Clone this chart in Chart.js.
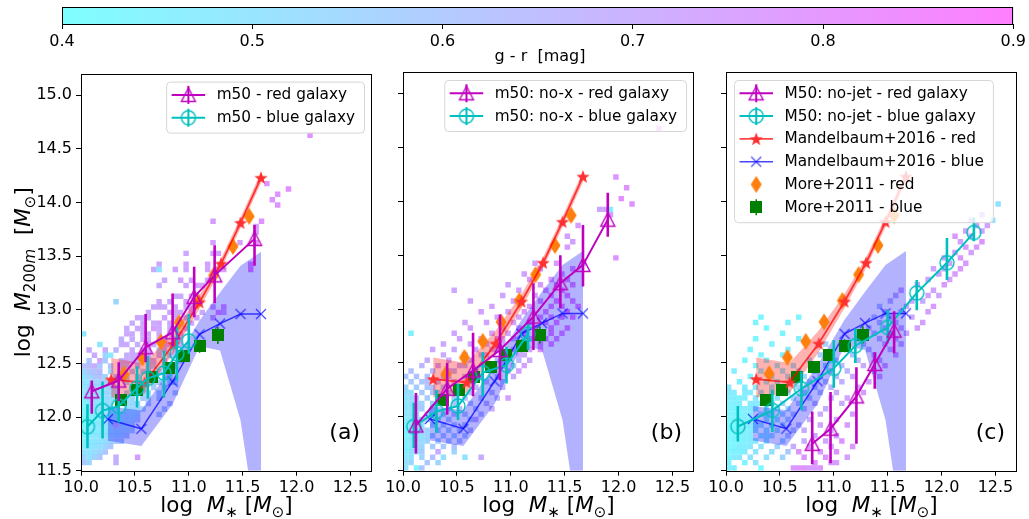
<!DOCTYPE html>
<html>
<head>
<meta charset="utf-8">
<script src="https://cdn.jsdelivr.net/npm/chart.js@4.4.1/dist/chart.umd.min.js"></script>
<style>
  body { margin: 0; background: #fff; }
  #wrap { position: relative; width: 1029px; height: 519px; overflow: hidden; background: #fff; }
  canvas { position: absolute; }
</style>
</head>
<body>
<div id="wrap">
  <canvas id="pa" width="382" height="459" style="left:0px;top:60px"></canvas>
  <canvas id="pb" width="382" height="459" style="left:322px;top:60px"></canvas>
  <canvas id="pc" width="382" height="459" style="left:645px;top:60px"></canvas>
  <canvas id="cbar" width="1029" height="66" style="left:0px;top:0px"></canvas>
</div>
<script>
// ---- tick labels ----
var cbarTicks = [0.4, 0.5, 0.6, 0.7, 0.8, 0.9];
var xTicks = [10.0, 10.5, 11.0, 11.5, 12.0, 12.5];
var yTicks = [11.5, 12.0, 12.5, 13.0, 13.5, 14.0, 14.5, 15.0];

// ---- observations (same in all panels) ----
var mandRedX  = [10.28, 10.59, 10.86, 11.10, 11.30, 11.48, 11.67];
var mandRedY  = [12.35, 12.32, 12.68, 13.07, 13.43, 13.81, 14.23];
var mandRedLo = [12.18, 12.22, 12.60, 13.01, 13.38, 13.76, 14.18];
var mandRedHi = [12.55, 12.50, 12.80, 13.14, 13.48, 13.86, 14.28];

var mandBlueX  = [10.25, 10.56, 10.85, 11.10, 11.29, 11.48, 11.67];
var mandBlueY  = [11.98, 11.89, 12.33, 12.77, 12.87, 12.96, 12.96];
var mandBlueLo = [11.78, 11.73, 12.12, 12.66, 12.62, 11.97, 10.70];
var mandBlueHi = [12.10, 12.06, 12.48, 12.90, 13.16, 13.41, 13.54];

var moreRedX = [10.40, 10.57, 10.74, 10.91, 11.08, 11.23, 11.41, 11.56];
var moreRedY = [12.40, 12.55, 12.70, 12.88, 13.08, 13.32, 13.59, 13.87];

var moreBlueX  = [10.37, 10.52, 10.66, 10.82, 10.96, 11.10, 11.27];
var moreBlueY  = [12.16, 12.25, 12.37, 12.46, 12.57, 12.66, 12.76];
var moreBlueLo = [12.11, 12.20, 12.32, 12.41, 12.52, 12.60, 12.68];
var moreBlueHi = [12.21, 12.30, 12.42, 12.51, 12.62, 12.72, 12.84];

// ---- simulation medians ----
// (a) m50
var redAX  = [10.10, 10.35, 10.60, 10.85, 11.05, 11.24, 11.61];
var redAY  = [12.24, 12.34, 12.65, 12.79, 13.12, 13.32, 13.66];
var redALo = [12.03, 12.15, 12.51, 12.66, 12.93, 13.06, 13.41];
var redAHi = [12.34, 12.51, 12.96, 13.15, 13.40, 13.60, 13.79];
var blueAX  = [10.06, 10.20, 10.35, 10.52, 10.62, 10.77, 10.89, 11.00];
var blueAY  = [11.91, 12.06, 12.10, 12.27, 12.36, 12.41, 12.59, 12.71];
var blueALo = [11.71, 11.80, 11.95, 12.09, 12.17, 12.18, 12.34, 12.59];
var blueAHi = [12.12, 12.33, 12.43, 12.47, 12.57, 12.62, 12.84, 12.96];
// (b) m50: no-x
var redBX  = [10.12, 10.41, 10.65, 10.90, 11.21, 11.46, 11.67, 11.90];
var redBY  = [11.92, 12.26, 12.43, 12.62, 12.93, 13.24, 13.41, 13.83];
var redBLo = [11.66, 12.02, 12.19, 12.34, 12.62, 13.01, 13.21, 13.67];
var redBHi = [12.22, 12.50, 12.78, 12.95, 13.24, 13.50, 13.78, 14.08];
var blueBX  = [10.10, 10.31, 10.51, 10.74, 10.96, 11.16];
var blueBY  = [11.91, 12.05, 12.10, 12.41, 12.48, 12.77];
var blueBLo = [11.71, 11.85, 11.97, 12.19, 12.31, 12.62];
var blueBHi = [12.13, 12.25, 12.31, 12.60, 12.65, 12.87];
// (c) M50: no-jet
var redCX  = [10.80, 10.97, 11.21, 11.38, 11.56];
var redCY  = [11.75, 11.89, 12.19, 12.49, 12.80];
var redCLo = [11.56, 11.57, 11.75, 12.26, 12.59];
var redCHi = [12.05, 12.23, 12.46, 12.60, 12.98];
var blueCX  = [10.11, 10.43, 10.70, 11.00, 11.20, 11.50, 11.77, 12.05, 12.30];
var blueCY  = [11.91, 12.06, 12.26, 12.45, 12.66, 12.83, 13.15, 13.43, 13.71];
var blueCLo = [11.77, 11.86, 12.06, 12.27, 12.50, 12.68, 12.99, 13.27, 13.63];
var blueCHi = [12.10, 12.25, 12.42, 12.71, 12.82, 12.99, 13.27, 13.66, 13.85];

// ---- legend labels ----
var labelsA = ['m50 - red galaxy', 'm50 - blue galaxy'];
var labelsB = ['m50: no-x - red galaxy', 'm50: no-x - blue galaxy'];
var labelsC = ['M50: no-jet - red galaxy', 'M50: no-jet - blue galaxy',
               'Mandelbaum+2016 - red', 'Mandelbaum+2016 - blue',
               'More+2011 - red', 'More+2011 - blue'];

// ---- 2d histogram cells, one row per M200m bin: [logM200m, logM*, g-r, logM*, g-r, ...] ----
var cellRowsA = [
 [14.625, 12.125,.78],
 [14.175, 11.725,.78],
 [14.125, 11.925,.80],
 [14.075, 11.825,.78],
 [14.025, 11.775,.78],
 [13.975, 11.825,.78],
 [13.825, 11.225,.75, 11.675,.78],
 [13.775, 11.625,.76],
 [13.725, 11.625,.76],
 [13.625, 11.225,.74, 11.475,.74, 11.625,.80],
 [13.525, 10.975,.72, 11.225,.72, 11.275,.74],
 [13.425, 10.725,.72, 10.975,.73, 11.175,.75, 11.575,.85],
 [13.375, 10.675,.70, 10.725,.50, 10.875,.72, 10.975,.72, 11.175,.74, 11.275,.74, 11.325,.74, 11.575,.85],
 [13.275, 10.775,.72, 10.925,.74, 11.025,.72, 11.175,.72],
 [13.225, 10.725,.70, 10.975,.72, 11.075,.74, 11.125,.73],
 [13.125, 10.875,.72, 10.925,.70, 11.025,.74, 11.075,.72],
 [13.075, 10.325,.55, 10.725,.72, 10.825,.70, 10.975,.74, 11.075,.72],
 [13.025, 10.675,.70, 10.725,.72, 10.775,.70, 10.875,.72, 10.975,.70, 11.025,.72, 11.225,.74, 11.325,.78],
 [12.975, 10.625,.72, 10.825,.72, 10.875,.70, 10.925,.72, 11.025,.74, 11.125,.72, 11.275,.82, 11.325,.74],
 [12.925, 10.525,.72, 10.575,.70, 10.625,.70, 10.775,.72, 10.875,.72, 10.975,.70, 11.075,.74, 11.225,.75],
 [12.875, 10.475,.70, 10.575,.72, 10.675,.70, 10.725,.74, 10.825,.72, 10.925,.70, 11.025,.72],
 [12.825, 10.425,.70, 10.525,.72, 10.575,.72, 10.675,.74, 10.725,.72, 10.825,.70, 10.875,.72, 10.975,.72],
 [12.775, 10.025,.48, 10.425,.72, 10.475,.70, 10.575,.72, 10.625,.70, 10.725,.72, 10.825,.70, 10.925,.74],
 [12.725, 10.375,.68, 10.475,.70, 10.575,.72, 10.625,.72, 10.725,.72, 10.775,.70, 10.875,.72, 10.925,.60],
 [12.675, 10.175,.48, 10.375,.70, 10.425,.70, 10.525,.68, 10.625,.72, 10.675,.70, 10.775,.72, 10.825,.70, 10.925,.72],
 [12.625, 10.075,.70, 10.225,.70, 10.325,.66, 10.475,.70, 10.575,.68, 10.625,.72, 10.725,.60, 10.775,.70, 10.875,.70],
 [12.575, 10.125,.70, 10.225,.55, 10.275,.48, 10.425,.68, 10.475,.72, 10.525,.70, 10.625,.70, 10.725,.66, 10.825,.60, 10.875,.66],
 [12.525, 10.075,.60, 10.175,.72, 10.225,.58, 10.375,.66, 10.425,.70, 10.475,.68, 10.525,.64, 10.625,.62, 10.675,.68, 10.775,.66, 10.925,.62],
 [12.475, 10.025,.62, 10.075,.64, 10.125,.70, 10.175,.58, 10.275,.60, 10.375,.64, 10.425,.62, 10.525,.66, 10.625,.66, 10.675,.60, 10.775,.55, 10.875,.64],
 [12.425, 10.025,.55, 10.075,.60, 10.125,.62, 10.175,.65, 10.275,.55, 10.375,.60, 10.475,.62, 10.575,.60, 10.625,.64, 10.725,.62, 10.825,.58],
 [12.375, 10.025,.50, 10.075,.55, 10.125,.60, 10.175,.62, 10.225,.55, 10.325,.60, 10.425,.58, 10.525,.60, 10.625,.55, 10.675,.62, 10.775,.60, 10.825,.62],
 [12.325, 10.025,.52, 10.075,.50, 10.125,.55, 10.175,.56, 10.225,.58, 10.275,.60, 10.425,.56, 10.525,.58, 10.675,.55, 10.725,.60, 10.825,.58, 10.875,.55],
 [12.275, 10.025,.50, 10.075,.55, 10.125,.55, 10.175,.52, 10.225,.50, 10.275,.56, 10.325,.55, 10.475,.58, 10.575,.56, 10.675,.60, 10.775,.62],
 [12.225, 10.025,.48, 10.075,.52, 10.125,.52, 10.175,.50, 10.225,.55, 10.275,.55, 10.325,.52, 10.425,.55, 10.525,.60, 10.575,.58, 10.625,.55, 10.725,.58, 10.875,.60],
 [12.175, 10.025,.46, 10.075,.50, 10.125,.50, 10.175,.48, 10.225,.52, 10.275,.52, 10.325,.54, 10.425,.50, 10.475,.55, 10.575,.58, 10.625,.58, 10.725,.58],
 [12.125, 10.025,.45, 10.075,.48, 10.125,.50, 10.175,.50, 10.225,.52, 10.275,.52, 10.375,.52, 10.425,.54, 10.475,.55, 10.525,.56, 10.625,.60, 10.825,.62],
 [12.075, 10.025,.44, 10.075,.47, 10.125,.48, 10.175,.50, 10.225,.50, 10.275,.50, 10.325,.52, 10.425,.52, 10.475,.54, 10.525,.56, 10.575,.58, 10.775,.60],
 [12.025, 10.025,.45, 10.075,.45, 10.125,.46, 10.175,.50, 10.225,.52, 10.275,.50, 10.325,.50, 10.375,.53, 10.425,.55, 10.475,.53, 10.525,.56, 10.725,.62],
 [11.975, 10.025,.44, 10.075,.45, 10.125,.46, 10.175,.48, 10.225,.50, 10.275,.50, 10.325,.52, 10.375,.52, 10.425,.55, 10.475,.55, 10.525,.60],
 [11.925, 10.025,.44, 10.075,.45, 10.125,.47, 10.175,.50, 10.225,.50, 10.275,.52, 10.325,.70, 10.375,.55, 10.425,.55, 10.475,.58],
 [11.875, 10.025,.45, 10.075,.46, 10.125,.48, 10.175,.48, 10.225,.50, 10.275,.52, 10.325,.55, 10.375,.55, 10.425,.56, 10.475,.58],
 [11.825, 10.025,.45, 10.075,.47, 10.125,.48, 10.175,.50, 10.225,.52, 10.275,.54, 10.325,.55, 10.375,.56, 10.425,.60],
 [11.775, 10.025,.46, 10.075,.48, 10.125,.50, 10.175,.50, 10.225,.52, 10.275,.55, 10.325,.60, 10.375,.58],
 [11.725, 10.025,.48, 10.075,.50, 10.125,.50, 10.175,.52, 10.225,.55, 10.275,.60],
 [11.675, 10.025,.50, 10.075,.50, 10.125,.52, 10.175,.55, 10.225,.60],
 [11.625, 10.025,.55, 10.075,.50, 10.125,.55, 10.175,.60, 10.325,.68, 10.525,.75],
 [11.575, 10.025,.60, 10.075,.55, 10.325,.68]
];
var cellRowsB = [
 [14.675, 12.375,.78],
 [14.225, 11.975,.78],
 [14.125, 12.075,.78],
 [14.025, 12.025,.80],
 [13.975, 12.125,.78],
 [13.925, 11.825,.72, 11.875,.72, 11.925,.45],
 [13.875, 11.925,.74],
 [13.775, 11.625,.76],
 [13.675, 11.525,.74],
 [13.625, 11.575,.74],
 [13.575, 11.525,.76],
 [13.475, 11.975,.78],
 [13.425, 11.225,.74, 11.425,.76, 11.675,.76],
 [13.375, 11.275,.74, 11.575,.80],
 [13.325, 11.125,.74, 11.475,.78],
 [13.275, 11.175,.74, 11.375,.78, 11.525,.80],
 [13.225, 10.975,.72, 11.275,.76, 11.425,.80, 11.575,.82],
 [13.175, 10.475,.72, 11.075,.74, 11.325,.78, 11.475,.82],
 [13.125, 10.925,.72, 11.225,.76, 11.375,.80, 11.525,.84],
 [13.075, 10.625,.72, 11.025,.74, 11.275,.78, 11.425,.84, 11.575,.82],
 [13.025, 10.825,.74, 11.175,.76, 11.375,.82, 11.475,.82, 11.625,.84],
 [12.975, 10.725,.74, 10.975,.72, 11.125,.76, 11.325,.82, 11.525,.84],
 [12.925, 10.875,.74, 11.075,.74, 11.275,.80, 11.375,.82, 11.475,.84, 11.575,.84],
 [12.875, 10.575,.72, 10.775,.74, 11.025,.72, 11.175,.76, 11.325,.80, 11.425,.84],
 [12.825, 10.625,.74, 10.925,.72, 11.075,.74, 11.225,.78, 11.375,.82, 11.525,.84],
 [12.775, 10.075,.45, 10.475,.72, 10.825,.74, 10.975,.72, 11.125,.74, 11.275,.80, 11.375,.84, 11.475,.82],
 [12.725, 10.525,.74, 10.725,.72, 10.875,.74, 10.925,.72, 11.025,.72, 11.175,.72, 11.325,.82, 11.425,.80],
 [12.675, 10.375,.72, 10.625,.72, 10.775,.70, 10.925,.72, 11.075,.70, 11.125,.72, 11.275,.82, 11.375,.82],
 [12.625, 10.275,.72, 10.475,.70, 10.675,.72, 10.825,.70, 10.875,.72, 11.025,.68, 11.175,.74, 11.275,.80],
 [12.575, 10.375,.70, 10.575,.72, 10.725,.68, 10.775,.70, 10.975,.66, 11.075,.70, 11.125,.72],
 [12.525, 10.225,.70, 10.425,.72, 10.575,.68, 10.625,.66, 10.875,.62, 10.925,.66, 11.075,.66, 11.175,.72],
 [12.475, 10.175,.66, 10.325,.70, 10.525,.68, 10.575,.66, 10.775,.64, 10.925,.60, 11.025,.62, 11.125,.74],
 [12.425, 10.075,.62, 10.275,.64, 10.425,.68, 10.475,.66, 10.675,.66, 10.825,.62, 10.975,.68, 11.075,.74],
 [12.375, 10.025,.60, 10.125,.62, 10.225,.62, 10.375,.65, 10.425,.64, 10.575,.66, 10.725,.68, 10.875,.66, 11.025,.70],
 [12.325, 10.075,.58, 10.175,.60, 10.225,.62, 10.325,.64, 10.475,.66, 10.625,.68, 10.775,.64, 10.925,.62],
 [12.275, 10.025,.55, 10.125,.58, 10.225,.60, 10.275,.62, 10.375,.62, 10.525,.65, 10.675,.64, 10.925,.68],
 [12.225, 10.025,.52, 10.075,.52, 10.175,.58, 10.275,.60, 10.325,.60, 10.425,.62, 10.625,.62, 10.825,.66],
 [12.175, 10.025,.50, 10.075,.52, 10.125,.55, 10.225,.58, 10.375,.60, 10.475,.60, 10.575,.62, 10.725,.64, 10.875,.66, 10.975,.75],
 [12.125, 10.025,.48, 10.075,.52, 10.125,.54, 10.175,.56, 10.275,.58, 10.325,.60, 10.475,.60, 10.625,.62, 10.775,.66],
 [12.075, 10.025,.50, 10.075,.50, 10.125,.55, 10.175,.58, 10.275,.60, 10.425,.60, 10.525,.62, 10.675,.64, 10.825,.70],
 [12.025, 10.025,.48, 10.075,.52, 10.125,.54, 10.225,.56, 10.275,.56, 10.375,.60, 10.475,.62, 10.575,.60, 10.725,.65],
 [11.975, 10.025,.47, 10.075,.50, 10.125,.52, 10.175,.54, 10.225,.58, 10.325,.60, 10.425,.60, 10.625,.62, 10.675,.70],
 [11.925, 10.025,.46, 10.075,.48, 10.125,.50, 10.175,.52, 10.275,.56, 10.375,.58, 10.475,.60, 10.575,.62],
 [11.875, 10.025,.45, 10.075,.50, 10.125,.50, 10.175,.55, 10.225,.56, 10.325,.60, 10.425,.58, 10.525,.60, 10.625,.65],
 [11.825, 10.025,.44, 10.075,.48, 10.125,.52, 10.175,.52, 10.225,.55, 10.275,.58, 10.375,.60, 10.475,.58, 10.575,.60],
 [11.775, 10.025,.45, 10.075,.50, 10.125,.55, 10.175,.52, 10.225,.56, 10.325,.58, 10.425,.60, 10.525,.62],
 [11.725, 10.025,.45, 10.075,.48, 10.125,.50, 10.175,.55, 10.275,.58, 10.375,.60, 10.475,.62],
 [11.675, 10.025,.46, 10.075,.50, 10.125,.52, 10.175,.58, 10.325,.70, 10.475,.55],
 [11.625, 10.025,.48, 10.075,.50, 10.175,.55, 10.275,.62, 10.375,.52, 10.575,.50, 10.725,.70],
 [11.575, 10.025,.50, 10.075,.55, 10.225,.60, 10.325,.55],
 [11.525, 10.025,.50, 10.125,.45, 10.175,.60]
];
var cellRowsC = [
 [13.975, 12.525,.50],
 [13.875, 12.375,.72],
 [13.825, 12.275,.74, 12.475,.50],
 [13.775, 12.325,.74, 12.425,.74],
 [13.725, 12.225,.74, 12.375,.74],
 [13.675, 12.125,.76, 12.275,.76],
 [13.625, 12.175,.74, 12.375,.78],
 [13.575, 12.225,.76, 12.325,.76],
 [13.525, 12.125,.76, 12.275,.74],
 [13.475, 12.025,.74, 12.175,.76],
 [13.425, 12.075,.74, 12.225,.76],
 [13.375, 11.925,.72, 12.025,.74, 12.175,.76],
 [13.325, 11.975,.74, 12.125,.76],
 [13.275, 11.875,.72, 12.075,.74],
 [13.225, 11.775,.74, 12.025,.76],
 [13.175, 11.625,.72, 11.925,.74],
 [13.125, 11.575,.70, 11.875,.74, 11.975,.72],
 [13.075, 11.525,.66, 11.725,.72, 11.825,.70],
 [13.025, 11.425,.62, 11.675,.70, 11.925,.76],
 [12.975, 11.475,.64, 11.625,.68, 11.875,.74],
 [12.925, 10.325,.43, 10.675,.44, 11.375,.62, 11.525,.66, 11.725,.72],
 [12.875, 10.275,.44, 10.575,.45, 11.425,.64, 11.575,.68, 11.825,.74],
 [12.825, 10.375,.43, 11.325,.62, 11.475,.66, 11.625,.70, 11.775,.74],
 [12.775, 10.525,.44, 11.375,.64, 11.525,.68, 11.675,.72],
 [12.725, 10.275,.43, 10.675,.46, 11.225,.60, 11.425,.66, 11.575,.70],
 [12.675, 10.425,.44, 10.925,.55, 11.275,.64, 11.475,.68, 11.625,.72],
 [12.625, 10.225,.44, 10.575,.46, 11.125,.60, 11.325,.66, 11.525,.70],
 [12.575, 10.325,.44, 10.525,.45, 10.875,.58, 11.175,.62, 11.375,.68, 11.575,.74],
 [12.525, 10.175,.44, 10.375,.45, 10.775,.55, 11.025,.60, 11.225,.66, 11.425,.72],
 [12.475, 10.275,.44, 10.475,.45, 10.625,.50, 10.925,.60, 11.075,.64, 11.275,.70, 11.475,.76],
 [12.425, 10.075,.45, 10.325,.44, 10.525,.46, 10.675,.52, 10.825,.58, 10.975,.62, 11.125,.66, 11.375,.72],
 [12.375, 10.225,.44, 10.425,.45, 10.575,.50, 10.725,.55, 10.875,.60, 11.025,.64, 11.175,.70, 11.425,.76],
 [12.325, 10.125,.45, 10.375,.46, 10.475,.48, 10.625,.52, 10.775,.56, 10.925,.62, 11.075,.68, 11.325,.74],
 [12.275, 10.025,.48, 10.175,.46, 10.275,.47, 10.425,.48, 10.525,.50, 10.675,.55, 10.825,.60, 10.975,.66, 11.225,.72],
 [12.225, 10.025,.47, 10.075,.46, 10.175,.46, 10.225,.47, 10.325,.48, 10.425,.50, 10.575,.52, 10.725,.58, 10.875,.62, 11.025,.70, 11.275,.75],
 [12.175, 10.025,.45, 10.075,.46, 10.125,.45, 10.175,.46, 10.275,.48, 10.375,.50, 10.475,.52, 10.625,.55, 10.775,.60, 10.975,.68, 11.125,.72],
 [12.125, 10.025,.44, 10.075,.45, 10.125,.46, 10.225,.47, 10.275,.48, 10.325,.50, 10.425,.52, 10.525,.55, 10.675,.60, 10.825,.65, 11.075,.70],
 [12.075, 10.025,.44, 10.075,.44, 10.125,.45, 10.175,.46, 10.225,.47, 10.275,.48, 10.375,.50, 10.475,.52, 10.575,.55, 10.725,.62, 10.925,.68],
 [12.025, 10.025,.43, 10.075,.44, 10.125,.44, 10.175,.45, 10.225,.47, 10.325,.50, 10.375,.50, 10.425,.52, 10.525,.55, 10.625,.60, 10.875,.70, 11.175,.74],
 [11.975, 10.025,.42, 10.075,.44, 10.125,.45, 10.175,.45, 10.225,.46, 10.275,.47, 10.375,.50, 10.475,.52, 10.575,.58, 10.775,.68, 11.025,.72],
 [11.925, 10.025,.43, 10.075,.43, 10.125,.44, 10.175,.46, 10.225,.48, 10.275,.48, 10.325,.50, 10.425,.52, 10.525,.56, 10.675,.65, 10.875,.72, 11.125,.76],
 [11.875, 10.025,.42, 10.075,.44, 10.125,.44, 10.175,.45, 10.225,.46, 10.275,.48, 10.375,.50, 10.475,.54, 10.625,.62, 10.725,.70, 10.975,.72],
 [11.825, 10.025,.42, 10.075,.43, 10.125,.45, 10.175,.45, 10.225,.47, 10.325,.50, 10.375,.50, 10.425,.52, 10.575,.60, 10.825,.72, 11.025,.74],
 [11.775, 10.025,.42, 10.075,.44, 10.125,.44, 10.175,.45, 10.225,.46, 10.275,.48, 10.375,.50, 10.525,.55, 10.725,.70, 10.925,.72, 11.075,.78],
 [11.725, 10.025,.43, 10.075,.44, 10.125,.46, 10.175,.45, 10.225,.48, 10.325,.50, 10.475,.55, 10.625,.70, 10.775,.74, 10.975,.74, 11.175,.76],
 [11.675, 10.025,.42, 10.075,.45, 10.125,.44, 10.175,.46, 10.275,.50, 10.425,.52, 10.575,.60, 10.675,.78, 10.875,.76, 11.025,.78],
 [11.625, 10.025,.44, 10.075,.46, 10.125,.48, 10.225,.50, 10.375,.50, 10.525,.55, 10.725,.78, 10.925,.78, 11.125,.74],
 [11.575, 10.025,.45, 10.175,.44, 10.275,.50, 10.825,.78, 10.975,.76, 11.025,.75],
 [11.525, 10.025,.45, 10.075,.45, 10.325,.42, 10.625,.76, 10.675,.78, 10.725,.78, 10.775,.76, 10.825,.76, 10.875,.78]
];

// ---- colours ----
var MAG = '#bf00bf', CYA = '#00bfbf', ORANGE = '#ff7f0e', GREEN = '#008000';
var RED_L = 'rgba(255,0,0,0.72)', BLUE_L = 'rgba(0,0,255,0.72)';
var RED_BAND = 'rgba(255,0,0,0.3)', BLUE_BAND = 'rgba(0,0,255,0.3)';
var FONT = '"DejaVu Sans", sans-serif';

Chart.defaults.font.family = FONT;
Chart.defaults.color = '#000';

// cool colormap, g-r 0.4 .. 0.9
function coolColor(g, a) {
  var t = (g - 0.4) / 0.5;
  if (t < 0) t = 0;
  if (t > 1) t = 1;
  return 'rgba(' + Math.round(255 * t) + ',' + Math.round(255 * (1 - t)) + ',255,' + a + ')';
}

function mkCanvas(w, h, fn) {
  var c = document.createElement('canvas');
  c.width = w; c.height = h;
  fn(c.getContext('2d'));
  return c;
}
// matplotlib-like markers
var mk = {
  tri: mkCanvas(18, 18, function(g) {
    g.beginPath(); g.moveTo(9, 2); g.lineTo(2, 15.5); g.lineTo(16, 15.5); g.closePath();
    g.lineWidth = 1.4; g.strokeStyle = MAG; g.stroke();
  }),
  circ: mkCanvas(18, 18, function(g) {
    g.beginPath(); g.arc(9, 9, 7, 0, Math.PI * 2);
    g.lineWidth = 1.4; g.strokeStyle = CYA; g.stroke();
  }),
  star: mkCanvas(16, 16, function(g) {
    g.beginPath();
    for (var i = 0; i < 10; i++) {
      var r = (i % 2 == 0) ? 7 : 2.9;
      var ang = -Math.PI / 2 + i * Math.PI / 5;
      var px = 8 + r * Math.cos(ang), py = 8.6 + r * Math.sin(ang);
      if (i == 0) g.moveTo(px, py); else g.lineTo(px, py);
    }
    g.closePath(); g.fillStyle = '#ff3030'; g.fill();
  }),
  diam: mkCanvas(14, 20, function(g) {
    g.beginPath(); g.moveTo(7, 1.5); g.lineTo(12.5, 10); g.lineTo(7, 18.5); g.lineTo(1.5, 10); g.closePath();
    g.fillStyle = ORANGE; g.fill();
  }),
  xm: mkCanvas(14, 14, function(g) {
    g.beginPath(); g.moveTo(2, 2); g.lineTo(12, 12); g.moveTo(2, 12); g.lineTo(12, 2);
    g.lineWidth = 1.2; g.strokeStyle = BLUE_L; g.stroke();
  }),
  sq: mkCanvas(12, 12, function(g) {
    g.fillStyle = GREEN; g.fillRect(0, 0, 12, 12);
  })
};

function pts(xs, ys) {
  var out = [];
  for (var i = 0; i < xs.length; i++) out.push({x: xs[i], y: ys[i]});
  return out;
}
function errPts(xs, lo, hi) {
  var out = [];
  for (var i = 0; i < xs.length; i++) {
    out.push({x: xs[i], y: lo[i]}, {x: xs[i], y: hi[i]}, {x: xs[i], y: null});
  }
  return out;
}
function cellPts(rows) {
  var out = [], col = [];
  for (var r = 0; r < rows.length; r++) {
    for (var k = 1; k < rows[r].length; k += 2) {
      out.push({x: rows[r][k], y: rows[r][0]});
      col.push(coolColor(rows[r][k + 1], 0.55));
    }
  }
  return {data: out, colors: col};
}

function errDs(xs, lo, hi, color, w) {
  return {data: errPts(xs, lo, hi), borderColor: color, borderWidth: w,
          pointRadius: 0, spanGaps: false, fill: false};
}
function lineDs(xs, ys, color, w, marker, show) {
  return {data: pts(xs, ys), borderColor: color, borderWidth: w, showLine: show !== false,
          pointStyle: marker, pointRadius: 6, fill: false};
}
function bandDs(xs, ys, color, fillTo) {
  return {data: pts(xs, ys), borderWidth: 0, borderColor: 'rgba(0,0,0,0)', pointRadius: 0,
          backgroundColor: color, fill: fillTo};
}

// rich text (mathtext-ish): segments {t, it, sub}
function drawRich(ctx, segs, size, x, y, rot) {
  ctx.save();
  ctx.translate(x, y);
  if (rot) ctx.rotate(-Math.PI / 2);
  ctx.textBaseline = 'alphabetic';
  ctx.textAlign = 'left';
  ctx.fillStyle = '#000';
  var fnt = function(s) { return (s.it ? 'italic ' : '') + (s.sub ? size * 0.7 : size) + 'px ' + FONT; };
  var w = 0;
  segs.forEach(function(s) { ctx.font = fnt(s); w += ctx.measureText(s.t).width; });
  var cx = -w / 2;
  segs.forEach(function(s) {
    ctx.font = fnt(s);
    ctx.fillText(s.t, cx, s.sub ? size * 0.22 : 0);
    cx += ctx.measureText(s.t).width;
  });
  ctx.restore();
}

var xTitle = [{t: 'log  '}, {t: 'M', it: 1}, {t: '\u2217', sub: 1}, {t: ' ['}, {t: 'M', it: 1}, {t: '\u2299', sub: 1}, {t: ']'}];
var yTitle = [{t: 'log  '}, {t: 'M', it: 1}, {t: '200', sub: 1}, {t: 'm', sub: 1, it: 1}, {t: '  ['}, {t: 'M', it: 1}, {t: '\u2299', sub: 1}, {t: ']'}];

function decorPlugin(p) {
  return {
    id: 'decor',
    afterDatasetsDraw: function(chart) {
      var ctx = chart.ctx, a = chart.chartArea;
      ctx.save();
      // frame
      ctx.strokeStyle = '#000'; ctx.lineWidth = 1;
      ctx.strokeRect(Math.round(a.left) + 0.5, Math.round(a.top) + 0.5,
                     Math.round(a.right - a.left) - 1, Math.round(a.bottom - a.top));
      // panel letter
      ctx.font = '22px ' + FONT; ctx.fillStyle = '#000';
      ctx.textAlign = 'right'; ctx.textBaseline = 'alphabetic';
      ctx.fillText(p.letter, a.right - 12, a.bottom - 32);
      // legend
      ctx.font = '15.3px ' + FONT;
      var maxW = 0;
      p.legend.forEach(function(e) { maxW = Math.max(maxW, ctx.measureText(e.text).width); });
      var rowH = 22.8, w = 50.5 + maxW + 9, h = p.legend.length * rowH + 5.4;
      var left = p.legendLeft ? a.left + 8 : a.right - 8 - w, top = a.top + 8;
      ctx.beginPath();
      ctx.roundRect(left + 0.5, top + 0.5, w, h, 4);
      ctx.fillStyle = 'rgba(255,255,255,0.8)'; ctx.fill();
      ctx.strokeStyle = '#d6d6d6'; ctx.lineWidth = 1; ctx.stroke();
      p.legend.forEach(function(e, i) {
        var cy = top + 13.3 + i * rowH, x0 = left + 5.5, x1 = left + 39, cx = (x0 + x1) / 2;
        if (e.line) {
          ctx.beginPath(); ctx.moveTo(x0, cy); ctx.lineTo(x1, cy);
          ctx.strokeStyle = e.line; ctx.lineWidth = e.lw; ctx.stroke();
        }
        if (e.err) {
          ctx.beginPath(); ctx.moveTo(cx, cy - e.errLen); ctx.lineTo(cx, cy + e.errLen);
          ctx.strokeStyle = e.err; ctx.lineWidth = e.errW; ctx.stroke();
        }
        ctx.drawImage(e.mk, cx - e.mk.width / 2, cy - e.mk.height / 2);
        ctx.fillStyle = '#000'; ctx.textAlign = 'left'; ctx.textBaseline = 'middle';
        ctx.font = '15.3px ' + FONT;
        ctx.fillText(e.text, left + 50.5, cy + 0.5);
      });
      // axis titles
      drawRich(ctx, xTitle, 21.5, (a.left + a.right) / 2, 452, false);
      if (p.yTitle) drawRich(ctx, yTitle, 21.5, 30, (a.top + a.bottom) / 2, true);
      ctx.restore();
    }
  };
}

function makePanel(id, p) {
  var cells = cellPts(p.cells);
  var datasets = [
    errDs(p.redX, p.redLo, p.redHi, MAG, 2.6),
    lineDs(p.redX, p.redY, MAG, 2, mk.tri),
    errDs(p.blueX, p.blueLo, p.blueHi, CYA, 2.6),
    lineDs(p.blueX, p.blueY, CYA, 2, mk.circ),
    lineDs(mandRedX, mandRedY, RED_L, 1.8, mk.star),
    lineDs(moreRedX, moreRedY, ORANGE, 0, mk.diam, false),
    errDs(moreBlueX, moreBlueLo, moreBlueHi, GREEN, 1.5),
    lineDs(moreBlueX, moreBlueY, GREEN, 0, mk.sq, false),
    lineDs(mandBlueX, mandBlueY, BLUE_L, 1.5, mk.xm),
    bandDs(mandRedX, mandRedHi, RED_BAND, '+1'),
    bandDs(mandRedX, mandRedLo, RED_BAND, false),
    bandDs(mandBlueX, mandBlueHi, BLUE_BAND, '+1'),
    bandDs(mandBlueX, mandBlueLo, BLUE_BAND, false),
    {data: cells.data, showLine: false, pointStyle: 'rect', pointRadius: 3.85,
     pointBackgroundColor: cells.colors, pointBorderWidth: 0}
  ];
  new Chart(document.getElementById(id), {
    type: 'line',
    data: {datasets: datasets},
    options: {
      responsive: false, animation: false, events: [],
      layout: {padding: {top: 12, right: 10, left: 0, bottom: 0}},
      plugins: {legend: {display: false}, tooltip: {enabled: false}},
      scales: {
        x: {
          type: 'linear', min: 10, max: 12.7,
          afterFit: function(s) { s.height = 48.3; },
          afterBuildTicks: function(s) { s.ticks = xTicks.map(function(v) { return {value: v}; }); },
          ticks: {autoSkip: false, maxRotation: 0, padding: 3, font: {size: 16},
                  callback: function(v) { return v.toFixed(1); }},
          grid: {drawOnChartArea: false, tickLength: 5, color: '#000'},
          border: {display: false}
        },
        y: {
          type: 'linear', min: 11.5, max: 15.2,
          afterFit: function(s) { s.width = 81; },
          afterBuildTicks: function(s) { s.ticks = yTicks.map(function(v) { return {value: v}; }); },
          ticks: {display: p.yLabels, padding: 4, font: {size: 16},
                  callback: function(v) { return v.toFixed(1); }},
          grid: {drawOnChartArea: false, tickLength: 5, color: '#000'},
          border: {display: false}
        }
      }
    },
    plugins: [decorPlugin(p)]
  });
}

function legendEntries(labels, full) {
  var e = [
    {text: labels[0], line: MAG, lw: 2, mk: mk.tri, err: MAG, errLen: 9, errW: 2},
    {text: labels[1], line: CYA, lw: 2, mk: mk.circ, err: CYA, errLen: 9, errW: 2}
  ];
  if (full) {
    e.push({text: labels[2], line: RED_L, lw: 1.8, mk: mk.star});
    e.push({text: labels[3], line: BLUE_L, lw: 1.5, mk: mk.xm});
    e.push({text: labels[4], mk: mk.diam});
    e.push({text: labels[5], mk: mk.sq, err: GREEN, errLen: 8, errW: 1.5});
  }
  return e;
}

makePanel('pa', {redX: redAX, redY: redAY, redLo: redALo, redHi: redAHi,
  blueX: blueAX, blueY: blueAY, blueLo: blueALo, blueHi: blueAHi,
  cells: cellRowsA, letter: '(a)', legend: legendEntries(labelsA, false), yLabels: true, yTitle: true});
makePanel('pb', {redX: redBX, redY: redBY, redLo: redBLo, redHi: redBHi,
  blueX: blueBX, blueY: blueBY, blueLo: blueBLo, blueHi: blueBHi,
  cells: cellRowsB, letter: '(b)', legend: legendEntries(labelsB, false), yLabels: false});
makePanel('pc', {redX: redCX, redY: redCY, redLo: redCLo, redHi: redCHi,
  blueX: blueCX, blueY: blueCY, blueLo: blueCLo, blueHi: blueCHi,
  cells: cellRowsC, letter: '(c)', legend: legendEntries(labelsC, true), yLabels: false, legendLeft: true});

// colour bar on top
var cbarPlugin = {
  id: 'cbarFill',
  beforeDatasetsDraw: function(chart) {
    var ctx = chart.ctx, a = chart.chartArea;
    var gr = ctx.createLinearGradient(a.left, 0, a.right, 0);
    gr.addColorStop(0, coolColor(0.4, 0.5));
    gr.addColorStop(1, coolColor(0.9, 0.5));
    ctx.save();
    ctx.fillStyle = '#fff';
    ctx.fillRect(a.left, a.top, a.right - a.left, a.bottom - a.top);
    ctx.fillStyle = gr;
    ctx.fillRect(a.left, a.top, a.right - a.left, a.bottom - a.top);
    ctx.strokeStyle = '#000'; ctx.lineWidth = 1;
    ctx.strokeRect(Math.round(a.left) + 0.5, Math.round(a.top) + 0.5,
                   Math.round(a.right - a.left) - 1, Math.round(a.bottom - a.top));
    ctx.font = '16px ' + FONT; ctx.fillStyle = '#000';
    ctx.textAlign = 'center'; ctx.textBaseline = 'middle';
    ctx.fillText('g - r  [mag]', 540, 57);
    ctx.restore();
  }
};
new Chart(document.getElementById('cbar'), {
  type: 'line',
  data: {datasets: [{data: []}]},
  options: {
    responsive: false, animation: false, events: [],
    layout: {padding: {left: 62, right: 14, top: 7, bottom: 0}},
    plugins: {legend: {display: false}, tooltip: {enabled: false}},
    scales: {
      x: {
        type: 'linear', min: 0.4, max: 0.9,
        afterFit: function(s) { s.height = 42; },
        afterBuildTicks: function(s) { s.ticks = cbarTicks.map(function(v) { return {value: v}; }); },
        ticks: {autoSkip: false, maxRotation: 0, padding: 3, font: {size: 16},
                callback: function(v) { return v.toFixed(1); }},
        grid: {drawOnChartArea: false, tickLength: 5, color: '#000'},
        border: {display: false}
      },
      y: {display: false, min: 0, max: 1}
    }
  },
  plugins: [cbarPlugin]
});
</script>
</body>
</html>
